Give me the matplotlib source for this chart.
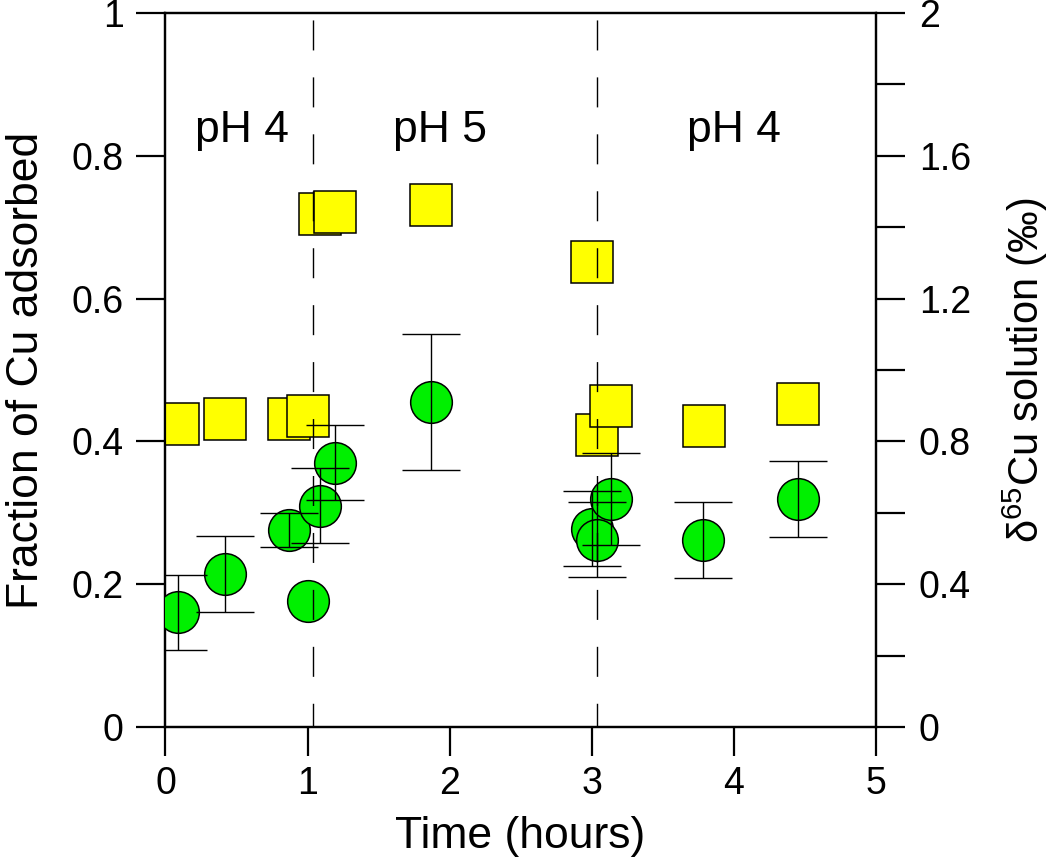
import numpy as np
import matplotlib
matplotlib.use("Agg")
import matplotlib.pyplot as plt
from matplotlib.ticker import MultipleLocator

plt.rcParams["font.family"] = ["Liberation Sans", "DejaVu Sans"]
plt.rcParams["mathtext.fontset"] = "custom"
plt.rcParams["mathtext.rm"] = "Liberation Sans"

# fraction adsorbed (left axis, yellow squares)
sq_time = [0.085, 0.42, 0.87, 1.00, 1.085, 1.19, 1.87, 3.00, 3.035, 3.135, 3.79, 4.45]
sq_frac = [0.424, 0.432, 0.431, 0.435, 0.718, 0.722, 0.731, 0.651, 0.409, 0.450, 0.422, 0.453]

# delta65Cu of solution (right axis, green circles)
ci_time = [0.085, 0.42, 0.87, 1.00, 1.087, 1.19, 1.87, 3.00, 3.037, 3.135, 3.787, 4.452]
ci_delta = [0.321, 0.428, 0.552, 0.353, 0.620, 0.740, 0.910, 0.555, 0.525, 0.639, 0.524, 0.639]
ci_err = [0.105, 0.106, 0.047, 0.0, 0.105, 0.105, 0.19, 0.105, 0.106, 0.128, 0.106, 0.106]

ph_changes = [1.04, 3.04]
ph_labels = ["pH 4", "pH 5", "pH 4"]
ph_label_x = [0.54, 1.93, 4.0]

fig = plt.figure(figsize=(10.5, 8.63), dpi=100)
ax = fig.add_axes([0.1576, 0.1576, 0.6764, 0.8273])
ax2 = ax.twinx()

ax.plot(sq_time, sq_frac, "s", ms=30, mfc="#ffff00", mec="black", mew=1.1,
        ls="none", zorder=3)

t = np.array(ci_time)
d = np.array(ci_delta)
e = np.array(ci_err)
ax2.plot(t, d, "o", ms=30, mfc="#00f000", mec="black", mew=1.1, ls="none", zorder=3)
m = e > 0  # no visible bar on one point
ax2.errorbar(t[m], d[m], yerr=e[m], fmt="none", ecolor="black", elinewidth=1.0,
             capsize=21, capthick=1.0, zorder=4)

for xc in ph_changes:
    ax2.plot([xc, xc], [2, 0], color="black", lw=1.0,
             ls=(36, (21.6, 19.4)), zorder=5)

for xl, lab in zip(ph_label_x, ph_labels):
    ax.text(xl, 0.82, lab, fontsize=32, ha="center", va="baseline")

ax.set_xlim(0, 5)
ax.set_ylim(0, 1)
ax2.set_ylim(0, 2)

ax.xaxis.set_major_locator(MultipleLocator(1))
ax.yaxis.set_major_locator(MultipleLocator(0.2))
ax.yaxis.set_major_formatter(plt.FuncFormatter(lambda v, p: f"{v:g}"))
ax2.yaxis.set_major_locator(MultipleLocator(0.4))
ax2.yaxis.set_minor_locator(MultipleLocator(0.2))
ax2.yaxis.set_major_formatter(plt.FuncFormatter(lambda v, p: f"{v:g}"))

for a in (ax, ax2):
    for s in a.spines.values():
        s.set_linewidth(1.6)

ax.tick_params(axis="both", which="major", direction="out", length=21, width=1.6,
               labelsize=27, pad=9, right=False, top=False)
ax.tick_params(axis="x", pad=7)
ax2.tick_params(axis="y", which="both", direction="out", length=21, width=1.6,
                labelsize=27, pad=10)

ax.set_xlabel("Time (hours)", fontsize=32)
ax.xaxis.set_label_coords(0.5, -0.125)
ax.set_ylabel("Fraction of Cu adsorbed", fontsize=32)
ax.yaxis.set_label_coords(-0.167, 0.5)
ax2.set_ylabel("δ$\\mathregular{^{65}}$Cu solution (‰)", fontsize=30)
ax2.yaxis.set_label_coords(1.176, 0.5)

fig.savefig("out.png", dpi=100)
